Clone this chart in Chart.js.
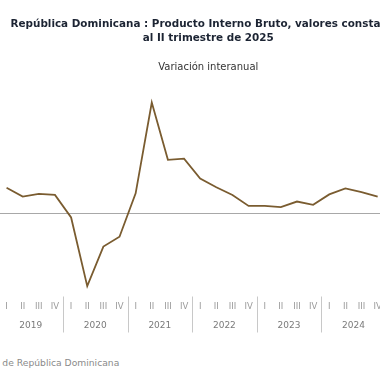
<!DOCTYPE html>
<html>
<head>
<meta charset="utf-8">
<script src="https://cdn.jsdelivr.net/npm/chart.js@4.4.1/dist/chart.umd.min.js"></script>
<style>
  html, body { margin:0; padding:0; width:380px; height:380px; overflow:hidden; background:#fff; position:relative; }
  #wrap { position:absolute; left:-110px; top:0; width:632px; height:345px; }
  #src { position:absolute; right:260.7px; top:357px; white-space:nowrap; text-align:right;
         font-family:"DejaVu Sans", sans-serif; font-size:9.2px; color:#8a8a8a; }
</style>
</head>
<body>
<div id="wrap"><canvas id="c" width="632" height="345"></canvas></div>
<div id="src">Fuente: Banco Central de República Dominicana</div>
<script>
const QUARTERS = ["I","II","III","IV","I","II","III","IV","I","II","III","IV","I","II","III","IV","I","II","III","IV","I","II","III","IV","I","II"];
const YEARS = ["2019","2020","2021","2022","2023","2024","2025"];
const YEAR_CENTERS = [1.5, 5.5, 9.5, 13.5, 17.5, 21.5, 24.5];
const YEAR_BOUNDS = [3.5, 7.5, 11.5, 15.5, 19.5, 23.5];
const PIB = [4.6, 3.0, 3.5, 3.3, -0.8, -13.3, -6.1, -4.3, 3.6, 20.1, 9.7, 9.9, 6.3, 4.7, 3.3, 1.3, 1.3, 1.1, 2.1, 1.5, 3.4, 4.5, 3.8, 3.0, null, null];

const separators = {
  id: 'separators',
  afterDraw(chart) {
    const x = chart.scales.x2;
    const ctx = chart.ctx;
    const top = chart.chartArea.bottom + 1;
    const bottom = top + 36;
    ctx.save();
    ctx.strokeStyle = '#c8c8c8';
    ctx.lineWidth = 1;
    YEAR_BOUNDS.forEach(v => {
      const px = Math.round(x.getPixelForValue(v)) + 0.5;
      ctx.beginPath(); ctx.moveTo(px, top); ctx.lineTo(px, bottom); ctx.stroke();
    });
    ctx.restore();
  }
};

new Chart(document.getElementById('c'), {
  type: 'line',
  data: {
    labels: QUARTERS,
    datasets: [{
      data: PIB,
      borderColor: '#7a5c30',
      borderWidth: 1.8,
      pointRadius: 0,
      tension: 0,
      fill: false
    }]
  },
  options: {
    responsive: false,
    animation: false,
    layout: { padding: { left: 108.5, right: 104, top: 0, bottom: 13.5 } },
    plugins: {
      legend: { display: false },
      tooltip: { enabled: false },
      title: {
        display: true,
        text: ["República Dominicana : Producto Interno Bruto, valores constantes", "al II trimestre de 2025"],
        color: '#1c2433',
        font: { family: 'DejaVu Sans', size: 10.4, weight: 'bold', lineHeight: 1.38 },
        padding: { top: 17, bottom: 9 }
      },
      subtitle: {
        display: true,
        text: "Variación interanual",
        color: '#333',
        font: { family: 'DejaVu Sans', size: 10, weight: 'normal', lineHeight: 1.2 },
        padding: { top: 7, bottom: 2 }
      }
    },
    scales: {
      y: {
        min: -15, max: 25,
        ticks: { display: false, stepSize: 5 },
        border: { display: false },
        grid: {
          drawTicks: false,
          color: (c) => (c.tick && c.tick.value === 0) ? '#a8a8a8' : 'rgba(0,0,0,0)',
          lineWidth: 1
        }
      },
      x: {
        offset: true,
        border: { display: false },
        grid: { display: false, drawTicks: false },
        afterFit: (a) => { a.height = 16; },
        ticks: { color: '#9a9a9a', font: { family: 'DejaVu Sans', size: 8.5 }, padding: 6, autoSkip: false, maxRotation: 0 }
      },
      x2: {
        type: 'linear',
        position: 'bottom',
        min: -0.5, max: 25.5,
        border: { display: false },
        grid: { display: false, drawTicks: false },
        afterFit: (a) => { a.height = 20; },
        afterBuildTicks: (axis) => { axis.ticks = YEAR_CENTERS.map(v => ({ value: v })); },
        ticks: {
          color: '#7a7a7a', font: { family: 'DejaVu Sans', size: 9 }, padding: 9, autoSkip: false, maxRotation: 0,
          callback: (v) => { const i = YEAR_CENTERS.indexOf(v); return i >= 0 ? YEARS[i] : ''; }
        }
      }
    }
  },
  plugins: [separators]
});
</script>
</body>
</html>
